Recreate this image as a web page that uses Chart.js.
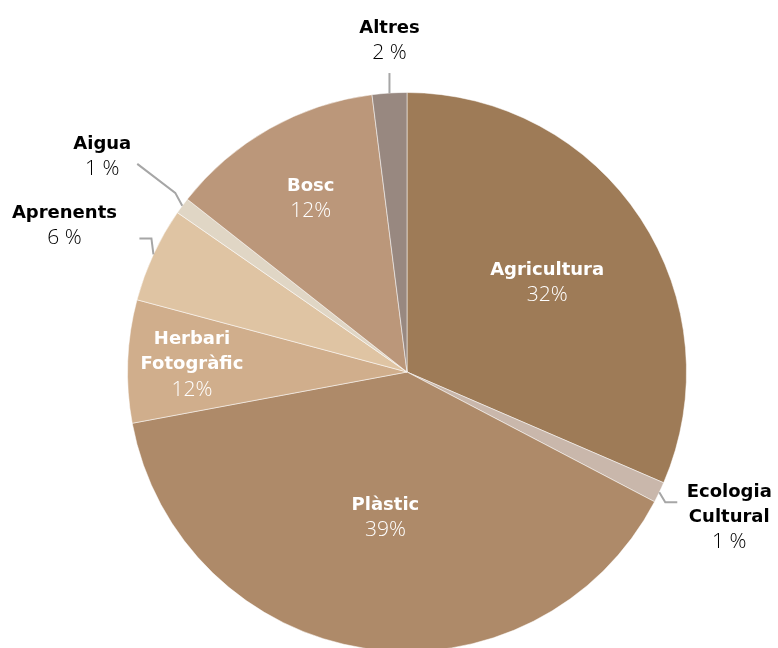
<!DOCTYPE html>
<html>
<head>
<meta charset="utf-8">
<script src="https://cdn.jsdelivr.net/npm/chart.js@4"></script>
<style>
  html, body { margin: 0; padding: 0; background: #fff; overflow: hidden; }
  #wrap { width: 778px; height: 700px; }
</style>
</head>
<body>
<div id="wrap"><canvas id="chart" width="778" height="700"></canvas></div>
<script>
// slices, clockwise from 12 o'clock
var categories = ["Agricultura", "Ecologia Cultural", "Plàstic", "Herbari Fotogràfic", "Aprenents", "Aigua", "Bosc", "Altres"];
var shares = [31.5, 1.2, 39.4, 7.1, 5.5, 0.95, 12.4, 2.0];
var percentLabels = ["32%", "1 %", "39%", "12%", "6 %", "1 %", "12%", "2 %"];
var nameLines = [["Agricultura"], ["Ecologia", "Cultural"], ["Plàstic"], ["Herbari", "Fotogràfic"], ["Aprenents"], ["Aigua"], ["Bosc"], ["Altres"]];

var colors = ["#9e7b57", "#c9b7ab", "#ae8a69", "#d0ae8c", "#dfc4a3", "#e0d6c5", "#bb977a", "#988880"];

// label placement: inside ones sit at a fraction of the radius (plus a small y nudge),
// outside ones get a leader line (points relative to the rim point)
var labelPlacement = [
  { inside: 0.60, dy: 3 },
  { line: [[0, 0], [6, 10], [18, 10]], text: [70, 0] },
  { inside: 0.52, dy: 2 },
  { inside: 0.77, dy: 1 },
  { line: [[0, 0], [-2, -16], [-14, -16]], text: [-89, -41] },
  { line: [[0, 0], [-7, -13], [-45, -42]], text: [-80, -62] },
  { inside: 0.70, dy: -3 },
  { line: [[0, 0], [0, -20]], text: [0, -65] }
];

var NAME_FONT = 'bold 18px "DejaVu Sans", sans-serif';
var PCT_FONT = '300 21px "Open Sans", "DejaVu Sans", sans-serif';
var LINE_H = 25;

var sliceLabels = {
  id: "sliceLabels",
  afterDatasetsDraw: function (chart) {
    var ctx = chart.ctx;
    var arcs = chart.getDatasetMeta(0).data;
    ctx.save();
    ctx.textAlign = "center";
    ctx.textBaseline = "middle";
    arcs.forEach(function (arc, i) {
      var p = arc.getProps(["x", "y", "startAngle", "endAngle", "outerRadius"], true);
      var mid = (p.startAngle + p.endAngle) / 2;
      var place = labelPlacement[i];
      var lines = nameLines[i];
      var cx, cy, color;

      if (place.inside) {
        var r = p.outerRadius * place.inside;
        var total = lines.length + 1;
        cx = p.x + Math.cos(mid) * r;
        cy = p.y + Math.sin(mid) * r - (total - 1) * LINE_H / 2 + place.dy;
        color = "#ffffff";
      } else {
        var ex = p.x + Math.cos(mid) * p.outerRadius;
        var ey = p.y + Math.sin(mid) * p.outerRadius;
        ctx.strokeStyle = "#a6a6a6";
        ctx.lineWidth = 2;
        ctx.beginPath();
        place.line.forEach(function (pt, k) {
          if (k === 0) ctx.moveTo(ex + pt[0], ey + pt[1]);
          else ctx.lineTo(ex + pt[0], ey + pt[1]);
        });
        ctx.stroke();
        cx = ex + place.text[0];
        cy = ey + place.text[1];
        color = "#000000";
      }

      ctx.fillStyle = color;
      ctx.font = NAME_FONT;
      lines.forEach(function (t, k) {
        ctx.fillText(t, cx, cy + k * LINE_H);
      });
      ctx.font = PCT_FONT;
      ctx.fillText(percentLabels[i], cx, cy + lines.length * LINE_H);
    });
    ctx.restore();
  }
};

new Chart(document.getElementById("chart").getContext("2d"), {
  type: "pie",
  data: {
    labels: categories,
    datasets: [{
      data: shares,
      backgroundColor: colors,
      borderColor: "rgba(255,255,255,0.5)",
      borderWidth: 1
    }]
  },
  options: {
    responsive: false,
    animation: false,
    layout: { padding: { left: 127, right: 91, top: 92, bottom: 48 } },
    plugins: {
      legend: { display: false },
      tooltip: { enabled: false }
    }
  },
  plugins: [sliceLabels]
});
</script>
</body>
</html>
